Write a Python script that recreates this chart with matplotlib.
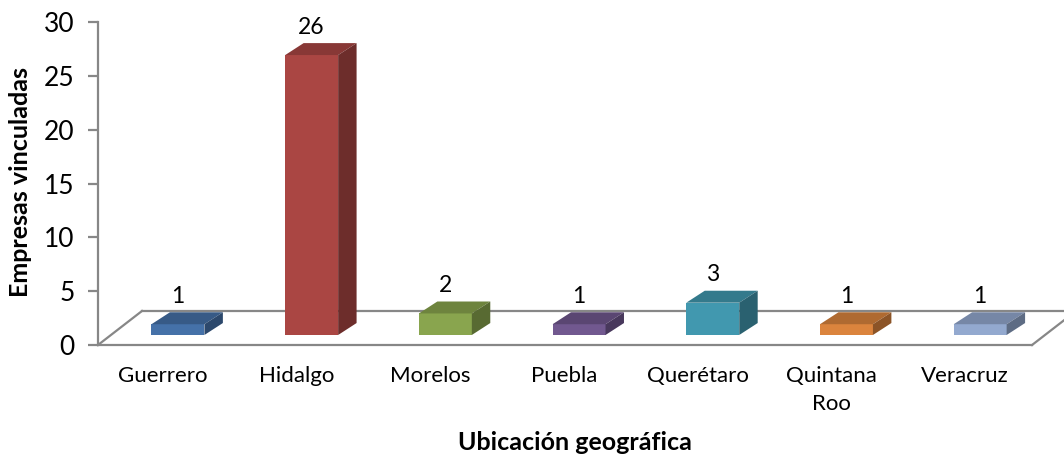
import matplotlib.pyplot as plt
from matplotlib.patches import Polygon, Rectangle
from matplotlib.colors import to_rgb

plt.rcParams['font.family'] = ['Lato', 'DejaVu Sans']

# datos
estados = ['Guerrero', 'Hidalgo', 'Morelos', 'Puebla', 'Querétaro', 'Quintana\nRoo', 'Veracruz']
empresas = [1, 26, 2, 1, 3, 1, 1]
colores = ['#4571A8', '#AA4643', '#89A54E', '#71588F', '#4198AF', '#DB843D', '#93A9CF']
yticks = [0, 5, 10, 15, 20, 25, 30]


def shade(c, f):
    return tuple(v * f for v in to_rgb(c))


fig = plt.figure(figsize=(10.64, 4.55), dpi=100)
ax = fig.add_axes([98 / 1064, 110 / 455, 966 / 1064, 323 / 455])
ax.set_xlim(-0.486, 6.739)
ax.set_ylim(0, 30)

gris = '#878787'

# piso en "3D"
fx0, fx1 = -0.486, 6.50
fdx, fdy = 0.329, 3.16
ax.plot([fx0, fx1], [0, 0], color=gris, lw=1.6, clip_on=False, zorder=1)
ax.plot([fx0 + fdx, fx1 + fdx], [fdy, fdy], color=gris, lw=1.6, clip_on=False, zorder=1)
ax.plot([fx0, fx0 + fdx], [0, fdy], color=gris, lw=1.6, clip_on=False, zorder=1)
ax.plot([fx1, fx1 + fdx], [0, fdy], color=gris, lw=1.6, clip_on=False, zorder=1)

# barras con efecto 3D
base = 0.93
w = 0.396
dx, dy = 0.138, 1.11
for i, (v, c) in enumerate(zip(empresas, colores)):
    x0 = i - 0.086
    ax.add_patch(Rectangle((x0, base), w, v, facecolor=c, edgecolor='none', zorder=3))
    top = [(x0, base + v), (x0 + w, base + v), (x0 + w + dx, base + v + dy), (x0 + dx, base + v + dy)]
    ax.add_patch(Polygon(top, closed=True, facecolor=shade(c, 0.8), edgecolor='none', zorder=3))
    side = [(x0 + w, base), (x0 + w + dx, base + dy), (x0 + w + dx, base + v + dy), (x0 + w, base + v)]
    ax.add_patch(Polygon(side, closed=True, facecolor=shade(c, 0.64), edgecolor='none', zorder=3))
    ax.text(x0 + w / 2, base + v + dy + 0.5, str(v), ha='center', va='bottom', fontsize=16.5)

# ejes
for s in ['top', 'right', 'bottom']:
    ax.spines[s].set_visible(False)
ax.spines['left'].set_color(gris)
ax.spines['left'].set_linewidth(1.6)
ax.set_yticks(yticks)
ax.tick_params(axis='y', length=7, width=1.6, color=gris, labelsize=19, pad=10)
ax.set_xticks(range(len(estados)))
ax.set_xticklabels(estados, fontsize=16, linespacing=1.5)
ax.tick_params(axis='x', length=0, pad=15)

fig.text(21 / 1064, 1 - 182 / 455, 'Empresas vinculadas', rotation=90,
         ha='center', va='center', fontsize=18, fontweight='bold')
fig.text(575 / 1064, 1 - 442 / 455, 'Ubicación geográfica',
         ha='center', va='center', fontsize=18, fontweight='bold')

fig.savefig('out.png', dpi=100)
